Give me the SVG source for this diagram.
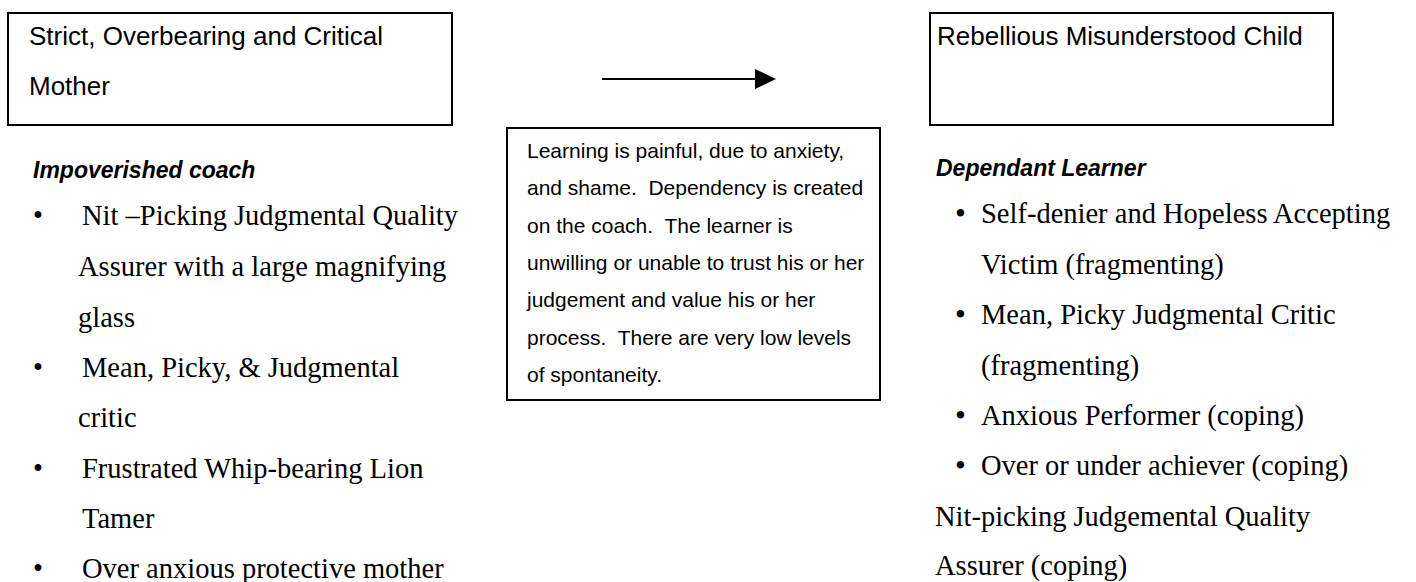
<svg xmlns="http://www.w3.org/2000/svg" width="1416" height="582" viewBox="0 0 1416 582">
<style>
.box{fill:#fff;stroke:#000;stroke-width:2}
.t{font-family:"Liberation Sans",Arial,sans-serif;font-size:26px;fill:#000}
.m{font-family:"Liberation Sans",Arial,sans-serif;font-size:21px;fill:#000;white-space:pre}
.h{font-family:"Liberation Sans",Arial,sans-serif;font-size:23px;font-weight:bold;font-style:italic;fill:#000}
.b{font-family:"Liberation Serif","Times New Roman",serif;font-size:28.5px;fill:#000}
.rb{font-family:"Liberation Serif","Times New Roman",serif;font-size:31px;fill:#000}
</style>
<rect width="1416" height="582" fill="#fff"/>
<g id="connectors">
<line x1="602" y1="79" x2="756" y2="79" stroke="#000" stroke-width="2"/>
<path d="M755,69 L776,79 L755,89 z" fill="#000"/>
</g>
<g id="mother">
<rect class="box" x="8" y="13" width="444" height="112"/>
<text class="t" x="29" y="45">Strict, Overbearing and Critical</text>
<text class="t" x="29" y="95">Mother</text>
</g>
<g id="child">
<rect class="box" x="930" y="13" width="403" height="112"/>
<text class="t" x="937" y="45">Rebellious Misunderstood Child</text>
</g>
<g id="learning">
<rect class="box" x="507" y="128" width="373" height="272"/>
<text class="m" x="527" y="158">Learning is painful, due to anxiety,</text>
<text class="m" x="527" y="195">and shame.  Dependency is created</text>
<text class="m" x="527" y="233">on the coach.  The learner is</text>
<text class="m" x="527" y="270">unwilling or unable to trust his or her</text>
<text class="m" x="527" y="307">judgement and value his or her</text>
<text class="m" x="527" y="345">process.  There are very low levels</text>
<text class="m" x="527" y="382">of spontaneity.</text>
</g>
<g id="coach">
<text class="h" x="33" y="178">Impoverished coach</text>
<text class="b" x="33" y="225">•</text>
<text class="b" x="82" y="225">Nit –Picking Judgmental Quality</text>
<text class="b" x="78" y="276">Assurer with a large magnifying</text>
<text class="b" x="78" y="326.5">glass</text>
<text class="b" x="33" y="377">•</text>
<text class="b" x="82" y="377">Mean, Picky, &amp; Judgmental</text>
<text class="b" x="78" y="427">critic</text>
<text class="b" x="33" y="478">•</text>
<text class="b" x="82" y="478">Frustrated Whip-bearing Lion</text>
<text class="b" x="82" y="528">Tamer</text>
<text class="b" x="33" y="578">•</text>
<text class="b" x="82" y="578">Over anxious protective mother</text>
</g>
<g id="learner">
<text class="h" x="936" y="176">Dependant Learner</text>
<text class="rb" x="955" y="224">•</text>
<text class="b" x="981" y="223">Self-denier and Hopeless Accepting</text>
<text class="b" x="981" y="273.5">Victim (fragmenting)</text>
<text class="rb" x="955" y="325">•</text>
<text class="b" x="981" y="324">Mean, Picky Judgmental Critic</text>
<text class="b" x="981" y="374.5">(fragmenting)</text>
<text class="rb" x="955" y="426">•</text>
<text class="b" x="981" y="425">Anxious Performer (coping)</text>
<text class="rb" x="955" y="476">•</text>
<text class="b" x="981" y="475">Over or under achiever (coping)</text>
<text class="b" x="935" y="526">Nit-picking Judgemental Quality</text>
<text class="b" x="935" y="575">Assurer (coping)</text>
</g>
</svg>
